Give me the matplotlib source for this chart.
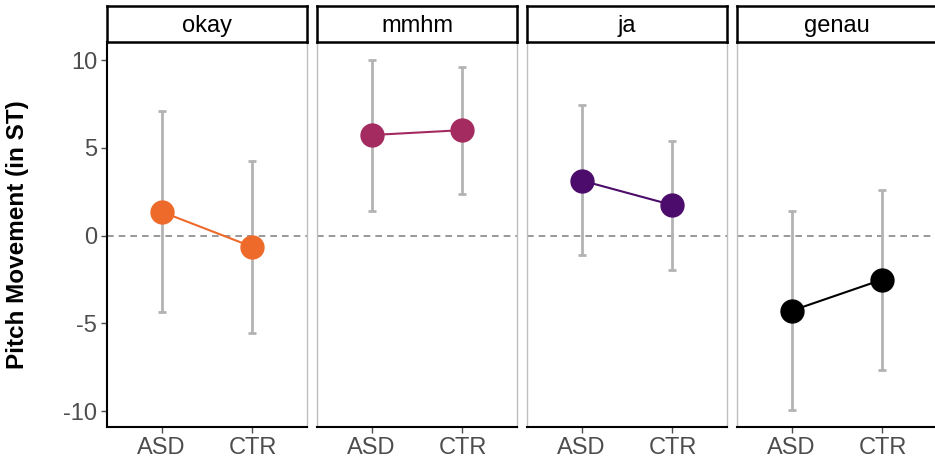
import matplotlib.pyplot as plt

plt.rcParams['font.family'] = ['Liberation Sans', 'DejaVu Sans']
plt.rcParams['axes.unicode_minus'] = False

# data
words = ["okay", "mmhm", "ja", "genau"]
groups = ["ASD", "CTR"]
means = [[1.36, -0.64], [5.73, 6.01], [3.14, 1.74], [-4.28, -2.50]]
upper = [[7.09, 4.26], [9.98, 9.62], [7.42, 5.40], [1.38, 2.61]]
lower = [[-4.34, -5.52], [1.43, 2.35], [-1.13, -1.93], [-9.94, -7.65]]
colors = ["#EE6A2A", "#A32B5F", "#4B0C6B", "#000000"]

W, H = 935, 459
fig = plt.figure(figsize=(W / 100, H / 100), dpi=100)

panel_left = [107, 317, 527, 737]
pw = 200
top, bottom, strip_top = 42, 427, 6

tick_gray = "#4D4D4D"
for i, word in enumerate(words):
    x0 = panel_left[i]
    ax = fig.add_axes([x0 / W, 1 - bottom / H, pw / W, (bottom - top) / H])
    xs = [1, 2]
    ax.axhline(0, color="#888888", lw=1.2, ls=(0, (4, 3)), zorder=1)
    m = means[i]
    yerr = [[m[k] - lower[i][k] for k in range(2)], [upper[i][k] - m[k] for k in range(2)]]
    ax.errorbar(xs, m, yerr=yerr, fmt="none", ecolor="#B3B3B3", elinewidth=2,
                capsize=3, capthick=2, zorder=2)
    ax.plot(xs, m, color=colors[i], lw=1.5, zorder=3)
    ax.plot(xs, m, "o", color=colors[i], ms=16.5, zorder=4)
    ax.set_xlim(0.4, 2.6)
    ax.set_ylim(-10.9, 11.03)
    ax.set_xticks(xs)
    ax.set_xticklabels(groups)
    ax.set_yticks([-10, -5, 0, 5, 10])
    ax.tick_params(colors=tick_gray, labelcolor=tick_gray, labelsize=17, length=4, width=1, pad=3)
    for s in ["top", "right", "left"]:
        ax.spines[s].set_color("#BEBEBE")
        ax.spines[s].set_linewidth(1)
    ax.spines["top"].set_visible(False)
    ax.spines["bottom"].set_color("black")
    ax.spines["bottom"].set_linewidth(1.5)
    if i == 0:
        ax.spines["left"].set_color("black")
        ax.spines["left"].set_linewidth(1.5)
    else:
        ax.tick_params(axis="y", left=False, labelleft=False)

    sax = fig.add_axes([x0 / W, 1 - top / H, pw / W, (top - strip_top) / H])
    sax.set_xticks([])
    sax.set_yticks([])
    for s in sax.spines.values():
        s.set_color("black")
        s.set_linewidth(1.8)
    sax.text(0.5, 0.45, word, ha="center", va="center", fontsize=17, transform=sax.transAxes)

fig.text(18 / W, 1 - 235 / H, "Pitch Movement (in ST)", rotation=90, ha="center", va="center",
         fontsize=17.5, fontweight="bold")

fig.savefig("out.png", dpi=100)
